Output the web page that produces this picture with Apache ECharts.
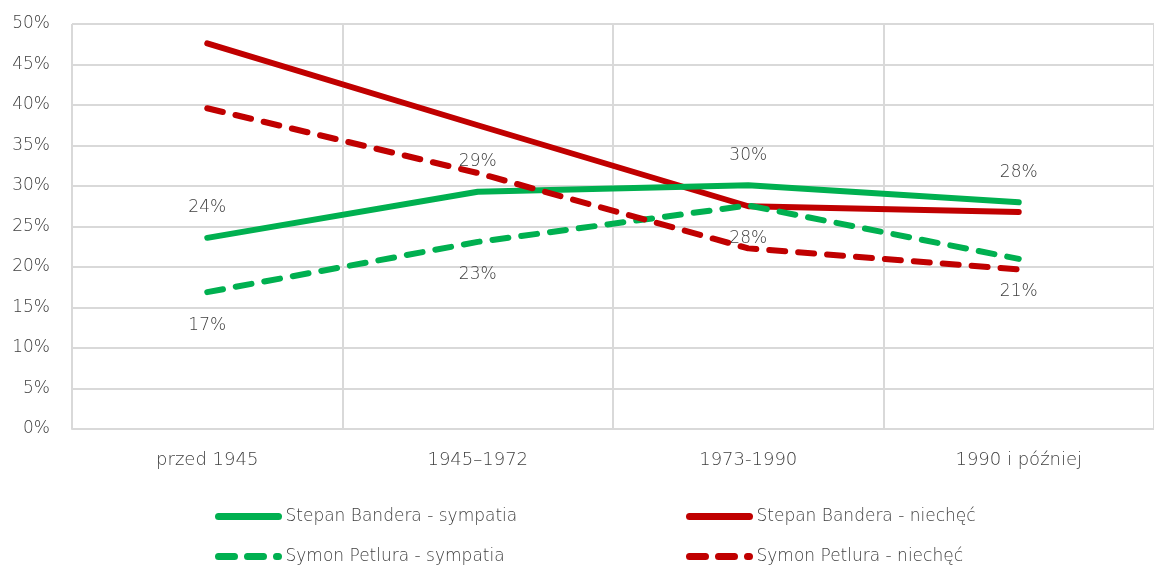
<!DOCTYPE html>
<html>
<head>
<meta charset="utf-8">
<script src="https://cdn.jsdelivr.net/npm/echarts@6/dist/echarts.min.js"></script>
<style>
  html, body { margin: 0; padding: 0; background: #fff; }
  #chart { width: 1154px; height: 565px; }
</style>
</head>
<body>
<div id="chart"></div>
<script>
  // kategorie (pokolenia)
  var categories = ['przed 1945', '1945–1972', '1973-1990', '1990 i później']
  var yTicks = [0, 5, 10, 15, 20, 25, 30, 35, 40, 45, 50]

  // wartości w %
  var banderaSympatia = [23.6, 29.3, 30.1, 28.0]
  var banderaNiechec = [47.6, 37.5, 27.5, 26.8]
  var petluraSympatia = [16.9, 23.1, 27.6, 21.0]
  var petluraNiechec = [39.6, 31.6, 22.3, 19.7]

  var names = ['Stepan Bandera - sympatia', 'Stepan Bandera - niechęć', 'Symon Petlura - sympatia', 'Symon Petlura - niechęć']

  var GREEN = '#00b050'
  var RED = '#c00000'
  var TEXT = '#404040'
  var FONT = 'DejaVu Sans'
  var DASH = [16, 13]

  function pct (p) {
    return Math.round(p.value) + '%'
  }

  function legendAt (name, left, top) {
    return {
      data: [name],
      left: left,
      top: top,
      itemWidth: 60,
      itemHeight: 14,
      itemGap: 0,
      itemStyle: {opacity: 0},
      lineStyle: {width: 7, cap: 'round', type: 'inherit'},
      textStyle: {color: TEXT, fontSize: 17, fontFamily: FONT, fontWeight: 300, padding: [0, 0, 0, 2]}
    }
  }

  function lineSeries (name, data, color, dashed, z) {
    return {
      name: name,
      type: 'line',
      data: data,
      symbol: 'circle',
      symbolSize: 1,
      z: z,
      lineStyle: {color: color, width: 6, type: dashed ? DASH : 'solid', cap: 'round', join: 'round'},
      itemStyle: {color: color}
    }
  }

  var myChart = echarts.init(document.getElementById('chart'))

  var s1 = lineSeries(names[0], banderaSympatia, GREEN, false, 3)
  s1.label = {show: true, position: 'top', distance: 21, color: TEXT, fontSize: 17, fontFamily: FONT, fontWeight: 300, formatter: pct}
  var s2 = lineSeries(names[1], banderaNiechec, RED, false, 2)
  var s3 = lineSeries(names[2], petluraSympatia, GREEN, true, 4)
  s3.label = {show: true, position: 'bottom', distance: 24, color: TEXT, fontSize: 17, fontFamily: FONT, fontWeight: 300, formatter: pct}
  var s4 = lineSeries(names[3], petluraNiechec, RED, true, 5)

  var option = {
    animation: false,
    textStyle: {fontFamily: FONT},
    grid: {
      left: 72,
      top: 24,
      width: 1092,
      height: 405
    },
    legend: [
      legendAt(names[0], 210, 503),
      legendAt(names[1], 681, 503),
      legendAt(names[2], 210, 543),
      legendAt(names[3], 681, 543)
    ],
    xAxis: {
      type: 'category',
      data: categories,
      boundaryGap: true,
      axisLine: {lineStyle: {color: '#d9d9d9', width: 2}},
      axisTick: {show: false},
      axisLabel: {color: TEXT, fontSize: 18, margin: 22, fontFamily: FONT, fontWeight: 300},
      splitLine: {show: true, lineStyle: {color: '#d9d9d9', width: 2}}
    },
    yAxis: {
      type: 'value',
      min: yTicks[0],
      max: yTicks[yTicks.length - 1],
      interval: 5,
      axisLine: {show: false},
      axisTick: {show: false},
      axisLabel: {color: TEXT, fontSize: 17, margin: 22, fontFamily: FONT, fontWeight: 300, formatter: '{value}%'},
      splitLine: {lineStyle: {color: '#d9d9d9', width: 2}}
    },
    series: [s1, s2, s3, s4]
  }
  myChart.setOption(option, true)
</script>
</body>
</html>
